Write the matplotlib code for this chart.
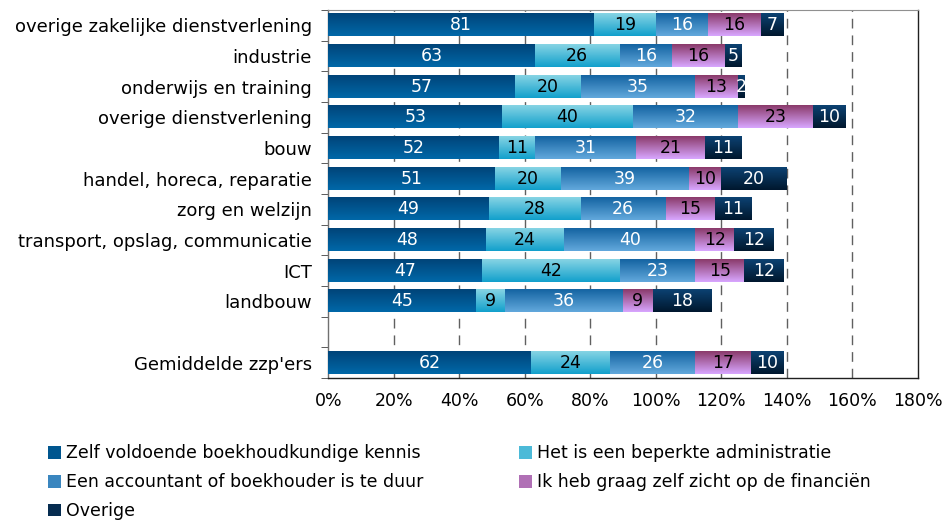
import numpy as np
import matplotlib
matplotlib.use("Agg")
import matplotlib.pyplot as plt
from matplotlib.colors import LinearSegmentedColormap
from matplotlib.patches import Patch

categories = [
    "overige zakelijke dienstverlening",
    "industrie",
    "onderwijs en training",
    "overige dienstverlening",
    "bouw",
    "handel, horeca, reparatie",
    "zorg en welzijn",
    "transport, opslag, communicatie",
    "ICT",
    "landbouw",
    "Gemiddelde zzp'ers",
]
series_names = [
    "Zelf voldoende boekhoudkundige kennis",
    "Het is een beperkte administratie",
    "Een accountant of boekhouder is te duur",
    "Ik heb graag zelf zicht op de financiën",
    "Overige",
]
zelf_kennis = [81, 63, 57, 53, 52, 51, 49, 48, 47, 45, 62]
beperkt_admin = [19, 26, 20, 40, 11, 20, 28, 24, 42, 9, 24]
te_duur = [16, 16, 35, 32, 31, 39, 26, 40, 23, 36, 26]
zelf_zicht = [16, 16, 13, 23, 21, 10, 15, 12, 15, 9, 17]
overige = [7, 5, 2, 10, 11, 20, 11, 12, 12, 18, 10]
xtick_labels = ["0%", "20%", "40%", "60%", "80%", "100%", "120%", "140%", "160%", "180%"]

series = [zelf_kennis, beperkt_admin, te_duur, zelf_zicht, overige]
grad = [
    ("#004479", "#0068a8"),
    ("#86d4e4", "#12a0cc"),
    ("#1464a2", "#62a8dc"),
    ("#8a3a6a", "#d8a6ff"),
    ("#0c4272", "#00172e"),
]
mid = ["#00568f", "#4cbad8", "#3a86bf", "#b070b5", "#062c50"]
txtcol = ["white", "black", "white", "black", "white"]

FS = 12.5
plt.rcParams["font.family"] = ["DejaVu Sans"]
fig = plt.figure(figsize=(9.52, 5.23), dpi=100)
ax = fig.add_axes([0.345, 0.277, 0.619, 0.704])

# positions: 10 sectors, one empty slot, then average
ypos = np.array(list(range(len(categories) - 1)) + [len(categories)])
h = 0.72

for g in [20, 40, 60, 80, 100, 120, 140, 160]:
    ax.axvline(g, color="#606060", lw=1.0, ls=(0, (7, 5)), zorder=0.5)

left = np.zeros(len(categories))
for i, vals in enumerate(series):
    vals = np.array(vals, dtype=float)
    bars = ax.barh(ypos, vals, left=left, height=h, color=mid[i], zorder=2,
                   linewidth=0)
    cmap = LinearSegmentedColormap.from_list("g%d" % i, list(grad[i]))
    gimg = np.linspace(0, 1, 64).reshape(-1, 1)
    for b, v in zip(bars, vals):
        x0 = b.get_x()
        y0 = b.get_y()
        ax.imshow(gimg, cmap=cmap, aspect="auto", interpolation="bilinear",
                  extent=(x0, x0 + b.get_width(), y0 + b.get_height(), y0),
                  origin="upper", zorder=3)
        ax.text(x0 + b.get_width() / 2, y0 + b.get_height() / 2, "%d" % v,
                ha="center", va="center", color=txtcol[i], fontsize=FS,
                zorder=4)
    left += vals

ax.set_xlim(0, 180)
ax.set_ylim(len(categories) + 0.5, -0.5)
ax.set_xticks(np.arange(0, 181, 20))
ax.set_xticklabels(xtick_labels, fontsize=FS)
ax.tick_params(axis="x", length=0, pad=10)
ax.set_yticks(ypos)
ax.set_yticklabels(categories, fontsize=13)
ax.tick_params(axis="y", which="major", length=0, pad=12)
ax.set_yticks(np.arange(-0.5, len(categories) + 1, 1), minor=True)
ax.tick_params(axis="y", which="minor", length=5, color="#404040", direction="out")

for s in ["left", "bottom", "right"]:
    ax.spines[s].set_color("#202020")
    ax.spines[s].set_linewidth(1.0)
ax.spines["top"].set_color("#909090")
ax.spines["left"].set_color("#707070")

handles = [Patch(facecolor=mid[i], edgecolor="none") for i in range(5)]
order = [0, 2, 4, 1, 3]
fig.legend([handles[k] for k in order], [series_names[k] for k in order],
           loc="upper left", bbox_to_anchor=(0.034, 0.18),
           ncol=2, frameon=False, fontsize=FS, handlelength=0.75,
           handleheight=0.75, handletextpad=0.3, columnspacing=5.5,
           labelspacing=0.62)

fig.savefig("out.png", dpi=100)
